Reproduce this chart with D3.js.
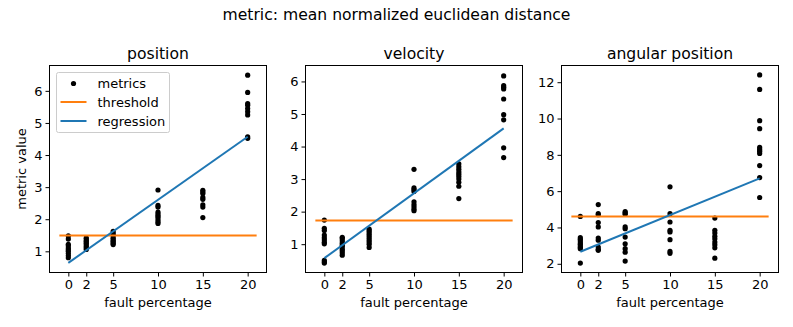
<!DOCTYPE html>
<html>
<head>
<meta charset="utf-8">
<script src="https://cdn.jsdelivr.net/npm/d3@7"></script>
<style>
  body { margin: 0; background: #fff; }
  text { font-family: "DejaVu Sans", sans-serif; fill: #000; }
</style>
</head>
<body>
<svg width="793" height="327"></svg>
<script>
// fault percentages shown on the x axis
const faultTicks = [0, 2, 5, 10, 15, 20];

// position metrics, one list per fault percentage
const positionValues = [
  [1.48, 1.38, 1.22, 1.17, 1.1, 1.05, 1.0, 0.93, 0.87, 0.8],
  [1.42, 1.38, 1.33, 1.3, 1.25, 1.2, 1.15, 1.1, 1.06],
  [1.62, 1.55, 1.5, 1.42, 1.38, 1.33, 1.3, 1.25, 1.21],
  [2.91, 2.43, 2.38, 2.22, 2.15, 2.1, 2.05, 1.98, 1.92, 1.87],
  [2.9, 2.85, 2.8, 2.68, 2.62, 2.45, 2.38, 2.05],
  [6.49, 5.95, 5.6, 5.55, 5.45, 5.35, 5.25, 4.57, 4.52]
];
const velocityValues = [
  [1.74, 1.49, 1.42, 1.28, 1.2, 1.13, 1.06, 1.01, 0.5, 0.45, 0.42],
  [1.21, 1.17, 1.1, 1.03, 0.97, 0.92, 0.85, 0.8, 0.73, 0.66],
  [1.46, 1.4, 1.33, 1.27, 1.2, 1.13, 1.07, 1.0, 0.9],
  [3.3, 2.73, 2.68, 2.62, 2.3, 2.22, 2.15, 2.08, 2.03],
  [3.47, 3.38, 3.3, 3.22, 3.15, 3.08, 3.0, 2.9, 2.78, 2.4],
  [6.17, 5.87, 5.82, 5.77, 5.46, 4.98, 4.82, 3.96, 3.66]
];
const angularValues = [
  [4.61, 3.44, 3.35, 3.25, 3.15, 3.07, 2.98, 2.9, 2.83, 2.04],
  [5.26, 4.76, 4.7, 4.27, 4.03, 3.42, 3.3, 2.92, 2.8, 2.74],
  [4.87, 4.8, 4.73, 4.03, 3.93, 3.47, 3.1, 2.83, 2.64, 2.15],
  [6.24, 4.76, 4.3, 3.84, 3.75, 3.33, 2.68, 2.57],
  [4.52, 3.84, 3.69, 3.51, 3.38, 3.2, 3.05, 2.88, 2.31],
  [12.4, 11.6, 9.88, 9.44, 8.41, 8.3, 8.2, 8.08, 7.41, 6.75, 5.65]
];

// threshold per panel and regression value at 0% and 20%
const thresholds = [1.49, 1.73, 4.6];
const regressionStart = [0.64, 0.57, 2.66];
const regressionEnd = [4.57, 4.56, 6.7];
const thresholdSpan = [-1, 21];

const panelTitles = ["position", "velocity", "angular position"];
const yTicks = [[1, 2, 3, 4, 5, 6], [1, 2, 3, 4, 5, 6], [2, 4, 6, 8, 10, 12]];
const yDomains = [[0.34, 6.79], [0.13, 6.49], [1.52, 12.92]];

const allValues = [positionValues, velocityValues, angularValues];

let svg = d3.select("svg");
const panelLeft = [49.5, 305.5, 561.5];
const panelWidth = 217, panelTop = 65.5, height = 207;

svg.append("text")
  .attr("x", 396.5).attr("y", 20)
  .attr("text-anchor", "middle")
  .style("font-size", "15.6px")
  .text("metric: mean normalized euclidean distance");

allValues.forEach(function(values, p) {
  let g = svg.append("g")
    .attr("transform", "translate(" + panelLeft[p] + "," + panelTop + ")");

  let x = d3.scaleLinear().domain([-2.1, 22.1]).range([0, panelWidth]);
  let y = d3.scaleLinear().domain(yDomains[p]).range([height, 0]);

  let points = [];
  values.forEach(function(list, i) {
    list.forEach(function(v) { points.push({x: faultTicks[i], y: v}); });
  });

  g.selectAll("circle")
    .data(points)
    .enter().append("circle")
      .attr("cx", d => x(d.x))
      .attr("cy", d => y(d.y))
      .attr("r", 2.6)
      .attr("fill", "#000");

  g.append("line")
    .attr("x1", x(thresholdSpan[0])).attr("x2", x(thresholdSpan[1]))
    .attr("y1", y(thresholds[p])).attr("y2", y(thresholds[p]))
    .attr("stroke", "#ff7f0e").attr("stroke-width", 2);

  g.append("line")
    .attr("x1", x(faultTicks[0])).attr("x2", x(faultTicks[faultTicks.length - 1]))
    .attr("y1", y(regressionStart[p])).attr("y2", y(regressionEnd[p]))
    .attr("stroke", "#1f77b4").attr("stroke-width", 2);

  // frame
  g.append("rect")
    .attr("width", panelWidth).attr("height", height)
    .attr("fill", "none").attr("stroke", "#000").attr("stroke-width", 1);

  let xAxis = g.append("g")
    .attr("transform", "translate(0," + height + ")")
    .call(d3.axisBottom(x).tickValues(faultTicks).tickSize(4).tickPadding(3));
  let yAxis = g.append("g")
    .call(d3.axisLeft(y).tickValues(yTicks[p]).tickFormat(d3.format("d")).tickSize(4).tickPadding(3));
  [xAxis, yAxis].forEach(function(a) {
    a.select(".domain").remove();
    a.selectAll("text").style("font-size", "13px").attr("fill", "#000")
      .style("font-family", "DejaVu Sans, sans-serif");
  });

  g.append("text")
    .attr("x", panelWidth / 2).attr("y", -7)
    .attr("text-anchor", "middle")
    .style("font-size", "15.6px")
    .text(panelTitles[p]);

  g.append("text")
    .attr("x", panelWidth / 2).attr("y", height + 34)
    .attr("text-anchor", "middle")
    .style("font-size", "13px")
    .text("fault percentage");

  if (p === 0) {
    g.append("text")
      .attr("transform", "translate(-24," + (height / 2) + ") rotate(-90)")
      .attr("text-anchor", "middle")
      .style("font-size", "13px")
      .text("metric value");

    let legend = g.append("g").attr("transform", "translate(7,7)");
    legend.append("rect")
      .attr("width", 113).attr("height", 60).attr("rx", 2)
      .attr("fill", "#fff").attr("fill-opacity", 0.8)
      .attr("stroke", "#ccc");
    legend.append("circle").attr("cx", 17).attr("cy", 11).attr("r", 2.6).attr("fill", "#000");
    legend.append("line").attr("x1", 4).attr("x2", 30).attr("y1", 29.5).attr("y2", 29.5)
      .attr("stroke", "#ff7f0e").attr("stroke-width", 2);
    legend.append("line").attr("x1", 4).attr("x2", 30).attr("y1", 48.5).attr("y2", 48.5)
      .attr("stroke", "#1f77b4").attr("stroke-width", 2);
    ["metrics", "threshold", "regression"].forEach(function(t, i) {
      legend.append("text")
        .attr("x", 41).attr("y", 11 + i * 18.8).attr("dy", "0.35em")
        .style("font-size", "13px")
        .text(t);
    });
  }
});
</script>
</body>
</html>
